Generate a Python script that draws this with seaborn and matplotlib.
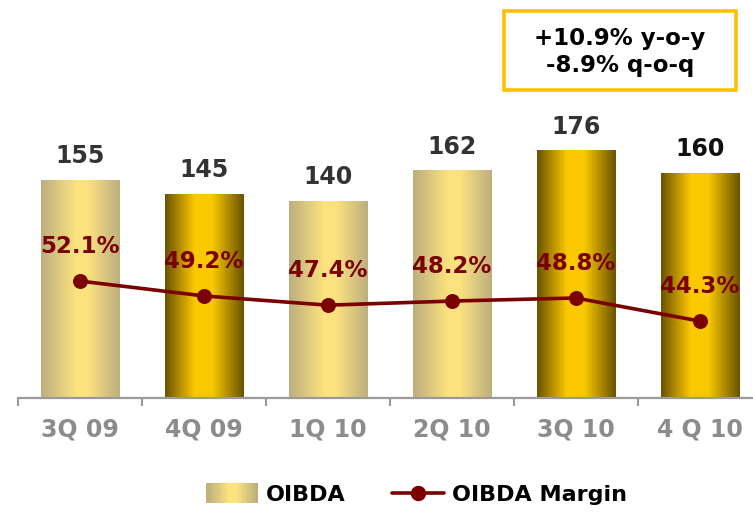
import numpy as np
import pandas as pd
import matplotlib
matplotlib.use("Agg")
import matplotlib.pyplot as plt
import seaborn as sns
from matplotlib.colors import LinearSegmentedColormap
from matplotlib.patches import Rectangle
from matplotlib.lines import Line2D
from matplotlib.legend_handler import HandlerBase

quarters = ["3Q 09", "4Q 09", "1Q 10", "2Q 10", "3Q 10", "4 Q 10"]
oibda = [155, 145, 140, 162, 176, 160]
margin = [52.1, 49.2, 47.4, 48.2, 48.8, 44.3]
bar_style = ["light", "gold", "light", "light", "gold", "gold"]
note_lines = ["+10.9% y-o-y", "-8.9% q-o-q"]

LINE_RED = "#7B0000"
grad_maps = {
    "light": LinearSegmentedColormap.from_list(
        "light", [(0, "#BDAE7E"), (0.45, "#FCE37E"), (0.6, "#FBE27F"), (1, "#BDAE7E")]),
    "gold": LinearSegmentedColormap.from_list(
        "gold", [(0, "#6A5200"), (0.38, "#FDC900"), (0.6, "#F8C800"), (1, "#6A5200")]),
}

sns.set_theme(style="white")
plt.rcParams["font.family"] = ["DejaVu Sans"]
plt.rcParams["font.weight"] = "bold"

df = pd.DataFrame({"quarter": quarters, "oibda": oibda, "margin": margin})

fig = plt.figure(figsize=(7.53, 5.14), dpi=100)
ax = fig.add_axes([18 / 753, 116 / 514, 1 - 18 / 753, 398 / 514])

sns.barplot(data=df, x="quarter", y="oibda", width=0.63, color="#FCE37E", ax=ax)

# gradient fill inside each bar
grad = np.linspace(0, 1, 256).reshape(1, -1)
for bar, style in zip(ax.patches, bar_style):
    x0, y0 = bar.get_x(), bar.get_y()
    w, h = bar.get_width(), bar.get_height()
    bar.set_edgecolor("none")
    im = ax.imshow(grad, cmap=grad_maps[style], extent=[x0, x0 + w, y0, y0 + h],
                   aspect="auto", zorder=bar.get_zorder() + 0.1)
    im.set_clip_path(bar)
ax.set_xlim(-0.5, 5.43)
ax.set_ylim(0, 283)

label_colors = ["#333333"] * 5 + ["#111111"]
for i, v in enumerate(oibda):
    ax.annotate(str(v), (i, v), xytext=(0, 17), textcoords="offset points",
                ha="center", va="center", fontsize=17, fontweight="bold",
                color=label_colors[i])

# axis styling
for s in ["top", "right", "left"]:
    ax.spines[s].set_visible(False)
ax.spines["bottom"].set_color("#9A9A9A")
ax.spines["bottom"].set_linewidth(1.6)
ax.set_yticks([])
ax.set_xlabel("")
ax.set_ylabel("")
ax.set_xticks(np.arange(len(quarters)))
ax.set_xticklabels(quarters, fontsize=17, fontweight="bold", color="#8C8C8C")
ax.tick_params(axis="x", which="major", length=0, pad=14)
ax.set_xticks(np.arange(len(quarters)) - 0.5, minor=True)
ax.tick_params(axis="x", which="minor", length=6, width=1.5, color="#9A9A9A",
               direction="out", bottom=True)

# margin line on twin axis
ax2 = ax.twinx()
sns.lineplot(x=np.arange(len(quarters)), y=margin, ax=ax2, color=LINE_RED,
             linewidth=2.6, marker="o", markersize=10, markeredgecolor=LINE_RED)
ax2.set_ylim(29.3, 106.9)
ax2.set_xlim(-0.5, 5.43)
ax2.axis("off")
for i, v in enumerate(margin):
    ax2.annotate(f"{v:.1f}%", (i, v), xytext=(0, 25), textcoords="offset points",
                 ha="center", va="center", fontsize=16.5, fontweight="bold",
                 color=LINE_RED)

# note box
fig.patches.append(Rectangle((504 / 753, 1 - 90 / 514), 232 / 753, 79 / 514,
                             transform=fig.transFigure, facecolor="white",
                             edgecolor="#FFC000", linewidth=2.6))
fig.text(620 / 753, 1 - 52 / 514, "\n".join(note_lines), ha="center", va="center",
         fontsize=16.5, fontweight="bold", color="#000000", linespacing=1.2)


class GradientHandler(HandlerBase):
    def create_artists(self, legend, orig_handle, xdescent, ydescent,
                       width, height, fontsize, trans):
        cmap = grad_maps["light"]
        n = 30
        out = []
        for k in range(n):
            r = Rectangle((-xdescent + width * k / n, -ydescent - 0.15 * height),
                          width / n + 0.3, height * 1.3,
                          facecolor=cmap(k / (n - 1)), edgecolor="none",
                          transform=trans)
            out.append(r)
        return out


bar_handle = Rectangle((0, 0), 1, 1)
line_handle = Line2D([], [], color=LINE_RED, linewidth=2.6, marker="o",
                     markersize=10)
leg = fig.legend([bar_handle, line_handle], ["OIBDA", "OIBDA Margin"],
                 handler_map={Rectangle: GradientHandler()},
                 loc="center", bbox_to_anchor=(0.553, 19 / 514), ncol=2,
                 frameon=False, prop={"size": 16, "weight": "bold"},
                 handlelength=2.35, handletextpad=0.35, columnspacing=2.1)
for t in leg.get_texts():
    t.set_color("black")

fig.savefig("out.png", dpi=100)
